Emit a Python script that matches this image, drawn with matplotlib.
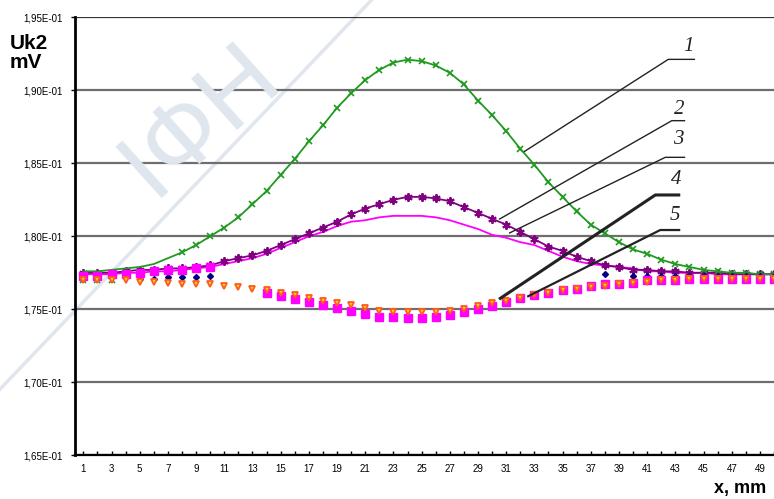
import numpy as np
import matplotlib.pyplot as plt
from matplotlib.lines import Line2D

plt.rcParams['font.family'] = ['Liberation Sans', 'DejaVu Sans']

nan = np.nan
x = np.arange(1, 51)

# curve 1 (green line) and its markers
u1 = [0.1776, 0.1776, 0.1777, 0.1778, 0.1779, 0.1781, 0.1785, 0.1789, 0.1794, 0.1800,
      0.1806, 0.1813, 0.1822, 0.1831, 0.1842, 0.1853, 0.1865, 0.1876, 0.1888, 0.1898,
      0.1907, 0.1914, 0.1919, 0.1921, 0.1920, 0.1917, 0.1912, 0.1904, 0.1893, 0.1883,
      0.1872, 0.1860, 0.1849, 0.1837, 0.1827, 0.1817, 0.1808, 0.1802, 0.1796, 0.1791,
      0.1788, 0.1784, 0.1781, 0.1779, 0.1777, 0.1776, 0.1775, 0.1775, 0.1774, 0.1774]
u1_pts = [0.1770, 0.1770, 0.1770, nan, nan, nan, nan] + u1[7:]

# curve 2 (purple, with markers)
u2 = [0.1775, 0.1775, 0.1775, 0.1776, 0.1777, 0.1777, 0.1778, 0.1778, 0.1779, 0.1780,
      0.1783, 0.1785, 0.1787, 0.1790, 0.1794, 0.1798, 0.1802, 0.1806, 0.1810, 0.1815,
      0.1819, 0.1822, 0.1825, 0.1827, 0.1827, 0.1826, 0.1824, 0.1820, 0.1816, 0.1812,
      0.1808, 0.1803, 0.1798, 0.1793, 0.1790, 0.1786, 0.1783, 0.1780, 0.1779, 0.1777,
      0.1777, 0.1776, 0.1776, 0.1775, 0.1775, 0.1775, 0.1774, 0.1774, 0.1774, 0.1774]

# curve 3 (magenta line)
u3 = [0.1774, 0.1774, 0.1774, 0.1775, 0.1775, 0.1776, 0.1776, 0.1777, 0.1778, 0.1779,
      0.1781, 0.1783, 0.1785, 0.1788, 0.1792, 0.1796, 0.1800, 0.1803, 0.1807, 0.1810,
      0.1811, 0.1813, 0.1814, 0.1814, 0.1814, 0.1813, 0.1811, 0.1808, 0.1805, 0.1801,
      0.1799, 0.1796, 0.1794, 0.1790, 0.1786, 0.1783, 0.1781, 0.1780, 0.1779, 0.1778,
      0.1776, 0.1776, 0.1775, 0.1775, 0.1775, 0.1774, 0.1774, 0.1774, 0.1774, 0.1774]

# curve 4 (triangles)
u4 = [0.1770, 0.1770, 0.1770, 0.1770, 0.1769, 0.1769, 0.1768, 0.1767, 0.1767, 0.1767,
      0.1766, 0.1765, 0.1764, 0.1763, 0.1761, 0.1760, 0.1758, 0.1756, 0.1754, 0.1753,
      0.1751, 0.1749, 0.1748, 0.1748, 0.1748, 0.1748, 0.1749, 0.1750, 0.1752, 0.1754,
      0.1756, 0.1758, 0.1760, 0.1761, 0.1763, 0.1764, 0.1765, 0.1766, 0.1767, 0.1768,
      0.1769, 0.1770, 0.1770, 0.1771, 0.1771, 0.1771, 0.1771, 0.1771, 0.1771, 0.1771]

# curve 5 (squares)
u5 = [0.1773, 0.1773, 0.1774, 0.1774, 0.1775, 0.1776, 0.1777, 0.1777, 0.1778, 0.1779,
      nan, nan, nan, 0.1761, 0.1759, 0.1757, 0.1755, 0.1753, 0.1751, 0.1749,
      0.1747, 0.1745, 0.1745, 0.1744, 0.1744, 0.1745, 0.1746, 0.1748, 0.1750, 0.1752,
      0.1755, 0.1758, 0.1760, 0.1761, 0.1763, 0.1764, 0.1766, 0.1767, 0.1767, 0.1768,
      0.1770, 0.1770, 0.1770, 0.1771, 0.1771, 0.1771, 0.1771, 0.1771, 0.1771, 0.1771]

# extra points (navy diamonds)
u6 = [nan] * 4 + [0.1771, 0.1771, 0.1772, 0.1772, 0.1772, 0.1773] + [nan] * 27 + \
     [0.1774, nan] + [0.1773] * 11

yticks = [0.165, 0.170, 0.175, 0.180, 0.185, 0.190, 0.195]
ytick_labels = ['1,65E-01', '1,70E-01', '1,75E-01', '1,80E-01', '1,85E-01', '1,90E-01', '1,95E-01']
xticks = list(range(1, 50, 2))

fig = plt.figure(figsize=(7.74, 4.99), dpi=100)

# faint background stamp
wm = '#e0e6ee'
fig.text(0.26, 0.76, 'ІФН', rotation=42, fontsize=72, color=wm,
         ha='center', va='center', zorder=0)
fig.add_artist(Line2D([0.0, 0.48], [0.22, 1.0], color=wm, lw=2.5, zorder=0))

ax = fig.add_axes([0.0969, 0.0876, 0.9031, 0.8777])
ax.patch.set_alpha(0)

for v in yticks:
    ax.axhline(v, color='#6e6e6e' if v < 0.195 else '#333333', lw=1.6, zorder=1)

ax.plot(x, u3, color='#ff00ff', lw=1.3, zorder=3)
ax.plot(x, u2, color='#800080', lw=1.3, marker=(6, 2, 0), ms=6, mew=1.4, zorder=4)
ax.plot(x, u1, color='#1f9a1f', lw=1.3, zorder=4)
ax.plot(x, u1_pts, ls='none', color='#1f9a1f', marker='x', ms=4.5, mew=1.2, zorder=4)
ax.plot(x, u6, ls='none', color='#000080', marker='D', ms=3, zorder=5)
ax.plot(x, u5, ls='none', color='#ff00ff', marker='s', ms=6, zorder=5)
ax.plot(x, u4, ls='none', marker='v', ms=4.5, mfc='#ffd21a', mec='#ff5a1f', mew=1.3, zorder=6)

# numbered leader lines
leaders = [
    ('1', (32.26, 0.18579), (42.5, 0.19212), 44.4, (43.9, 0.1930), 1.0),
    ('2', (30.49, 0.18116), (42.75, 0.18792), 43.7, (43.3, 0.1887), 1.0),
    ('3', (31.2, 0.18021), (42.29, 0.18541), 43.7, (43.2, 0.1866), 1.0),
    ('4', (30.49, 0.17569), (41.58, 0.18283), 43.35, (43.05, 0.1839), 2.2),
    ('5', (32.49, 0.17586), (41.93, 0.18043), 43.35, (42.95, 0.1814), 1.6),
]
for lab, p0, p1, xend, tp, lw in leaders:
    ax.plot([p0[0], p1[0], xend], [p0[1], p1[1], p1[1]], color='#222222',
            lw=lw, zorder=7, solid_capstyle='butt')
    ax.text(tp[0], tp[1], lab, fontsize=15, style='italic', family='Liberation Serif',
            ha='center', va='center', color='#222222', zorder=7)

ax.set_xlim(0.41, 49.88)
ax.set_ylim(0.165, 0.195)
ax.set_yticks(yticks)
ax.set_yticklabels(ytick_labels)
ax.set_xticks(xticks)
ax.set_xticks(range(1, 51), minor=True)
ax.tick_params(axis='y', length=3, width=1, labelsize=7, pad=6)
ax.tick_params(axis='x', which='both', direction='in', length=3, width=1,
               labelsize=7, pad=6)
for lbl in ax.get_yticklabels() + ax.get_xticklabels():
    lbl.set_family(['Liberation Sans Narrow', 'Liberation Sans'])

for s in ['top', 'right']:
    ax.spines[s].set_visible(False)
ax.spines['left'].set_linewidth(2)
ax.spines['bottom'].set_linewidth(1.6)

fig.text(0.012, 0.893, 'Uk2\nmV', fontsize=15, fontweight='bold', ha='left',
         va='center', linespacing=1.0)
fig.text(0.922, 0.022, 'x, mm', fontsize=13, fontweight='bold', ha='left', va='center')

fig.savefig('out.png', dpi=100)
